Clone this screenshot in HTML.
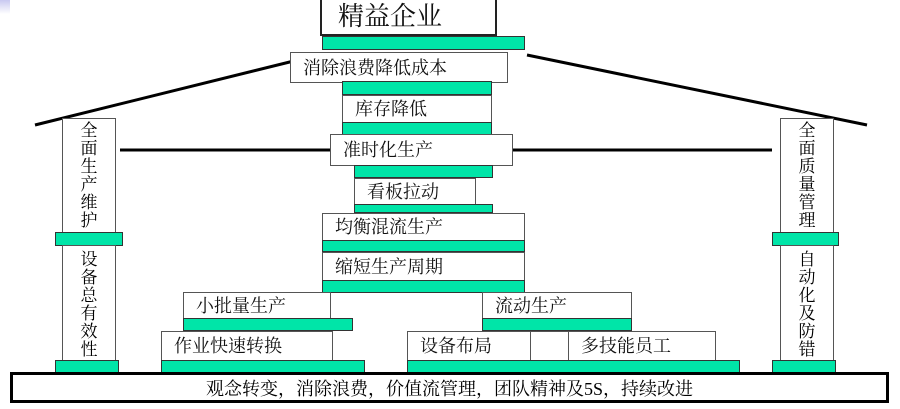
<!DOCTYPE html>
<html><head><meta charset="utf-8"><style>
body{margin:0;width:900px;height:409px;background:#fff;position:relative;overflow:hidden;font-family:"Liberation Serif","Noto Serif CJK SC","Noto Sans CJK SC",serif;}
div{position:absolute;box-sizing:border-box;}
.b{border:1px solid #555;background:#fff;font-size:18px;line-height:1;padding-left:12px;display:flex;align-items:center;color:#111;white-space:nowrap;}
.g{background:#00e5a8;border:1px solid #333;}
.v{border:1px solid #555;background:#fff;font-size:17px;line-height:18px;text-align:center;padding-top:3px;overflow:hidden;}
</style></head><body>
<div style="left:0;top:0;width:10px;height:14px;background:linear-gradient(#c8c8f0,#fff)"></div>
<svg style="position:absolute;left:0;top:0" width="900" height="409">
<line x1="318" y1="55" x2="35" y2="125" stroke="#000" stroke-width="3"/>
<line x1="527" y1="55" x2="867" y2="125" stroke="#000" stroke-width="3"/>
<line x1="120" y1="150" x2="332" y2="150" stroke="#000" stroke-width="3"/>
<line x1="512" y1="150" x2="772" y2="150" stroke="#000" stroke-width="3"/>
</svg>
<div class="b" style="left:320px;top:-2px;width:177px;height:38px;font-size:26px;border:2px solid #222;padding-left:16px">精益企业</div>
<div class="g" style="left:322px;top:36px;width:203px;height:14px"></div>
<div class="b" style="left:290px;top:52px;width:218px;height:31px;padding-left:12px">消除浪费降低成本</div>
<div class="g" style="left:342px;top:81px;width:150px;height:14px"></div>
<div class="b" style="left:342px;top:95px;width:150px;height:28px">库存降低</div>
<div class="g" style="left:342px;top:122px;width:150px;height:13px"></div>
<div class="b" style="left:330px;top:134px;width:183px;height:32px">准时化生产</div>
<div class="g" style="left:354px;top:165px;width:139px;height:13px"></div>
<div class="b" style="left:354px;top:178px;width:122px;height:28px">看板拉动</div>
<div class="g" style="left:354px;top:204px;width:139px;height:9px"></div>
<div class="b" style="left:322px;top:213px;width:203px;height:28px">均衡混流生产</div>
<div class="g" style="left:322px;top:240px;width:203px;height:12px"></div>
<div class="b" style="left:322px;top:252px;width:203px;height:29px">缩短生产周期</div>
<div class="g" style="left:322px;top:280px;width:203px;height:13px"></div>
<div class="b" style="left:183px;top:292px;width:148px;height:27px">小批量生产</div>
<div class="g" style="left:183px;top:318px;width:170px;height:13px"></div>
<div class="b" style="left:482px;top:292px;width:150px;height:27px">流动生产</div>
<div class="g" style="left:482px;top:318px;width:150px;height:13px"></div>
<div class="b" style="left:161px;top:331px;width:172px;height:30px">作业快速转换</div>
<div class="g" style="left:161px;top:360px;width:204px;height:13px"></div>
<div class="b" style="left:407px;top:331px;width:124px;height:30px">设备布局</div>
<div class="b" style="left:530px;top:331px;width:39px;height:30px"></div>
<div class="b" style="left:568px;top:331px;width:148px;height:30px">多技能员工</div>
<div class="g" style="left:407px;top:360px;width:333px;height:13px"></div>
<div class="v" style="left:62px;top:118px;width:54px;height:115px">全<br>面<br>生<br>产<br>维<br>护</div>
<div class="g" style="left:55px;top:232px;width:68px;height:14px"></div>
<div class="v" style="left:62px;top:245px;width:54px;height:116px;padding-top:5px">设<br>备<br>总<br>有<br>效<br>性</div>
<div class="g" style="left:55px;top:360px;width:64px;height:13px"></div>
<div class="v" style="left:780px;top:118px;width:54px;height:115px">全<br>面<br>质<br>量<br>管<br>理</div>
<div class="g" style="left:772px;top:232px;width:67px;height:14px"></div>
<div class="v" style="left:780px;top:245px;width:54px;height:116px;padding-top:5px">自<br>动<br>化<br>及<br>防<br>错</div>
<div class="g" style="left:772px;top:360px;width:64px;height:13px"></div>
<div style="left:10px;top:372px;width:879px;height:31px;border:3px solid #000;background:#fff;font-size:18px;display:flex;align-items:center;justify-content:center;">观念转变，消除浪费，价值流管理，团队精神及5S，持续改进</div>
</body></html>
